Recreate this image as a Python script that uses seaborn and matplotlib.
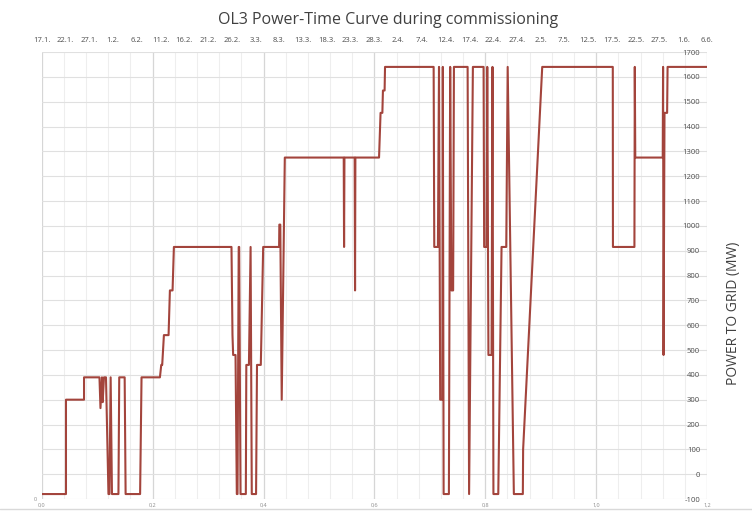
# OL3 power-time curve during commissioning
import numpy as np
import pandas as pd
import matplotlib
matplotlib.use("Agg")
import matplotlib.pyplot as plt
import seaborn as sns

# ------------------------------------------
# DATA
# ------------------------------------------

# days after 17.1.
days = [
    0, 5.1, 5.1, 8.9, 8.9, 12.15, 12.36, 12.68, 12.82, 13.1,
    13.52, 14.04, 14.25, 14.5, 14.78, 16.14, 16.31, 17.45, 17.65, 20.7,
    21.0, 24.87, 25.15, 25.35, 25.71, 26.69, 26.97, 27.53, 27.81, 39.93,
    40.14, 40.28, 40.78, 41.05, 41.2, 41.45, 41.55, 41.83, 42.95, 43.05,
    43.6, 43.95, 44.2, 45.1, 45.3, 46.1, 46.6, 49.95, 50.0, 50.2,
    50.5, 51.15, 63.55, 63.62, 63.7, 65.85, 65.93, 66.0, 70.98, 71.3,
    71.68, 71.8, 72.15, 72.24, 82.47, 82.6, 83.37, 83.6, 83.85, 84.3,
    84.4, 84.57, 85.68, 85.95, 86.2, 86.57, 86.74, 89.62, 89.93, 90.73,
    92.98, 93.1, 93.61, 93.75, 94.0, 94.66, 94.85, 95.05, 96.07, 96.76,
    97.75, 98.05, 99.35, 101.24, 101.3, 105.32, 120.17, 120.2, 124.72, 124.8,
    124.9, 130.68, 130.75, 130.85, 131.05, 131.6, 131.7, 140,
]

# MW
power = [
    -80, -80, 300, 300, 390, 390, 266, 390, 290, 390,
    390, -80, -80, 390, -80, -80, 390, 390, -80, -80,
    390, 390, 440, 440, 560, 560, 740, 740, 915, 915,
    560, 480, 480, -80, -80, 915, 915, -80, -80, 440,
    440, 915, -80, -80, 440, 440, 915, 915, 1005, 1005,
    300, 1275, 1275, 915, 1275, 1275, 740, 1275, 1275, 1455,
    1455, 1545, 1545, 1640, 1640, 915, 915, 1640, 300, 300,
    1640, -80, -80, 1640, 740, 740, 1640, 1640, -80, 1640,
    1640, 915, 915, 1640, 480, 480, 1640, -80, -80, 915,
    915, 1640, -80, -80, 100, 1640, 1640, 915, 915, 1640,
    1275, 1275, 1640, 480, 1455, 1455, 1640, 1640,
]

date_labels = [
    "17.1.", "22.1.", "27.1.", "1.2.", "6.2.", "11.2.", "16.2.", "21.2.",
    "26.2.", "3.3.", "8.3.", "13.3.", "18.3.", "23.3.", "28.3.", "2.4.",
    "7.4.", "12.4.", "17.4.", "22.4.", "27.4.", "2.5.", "7.5.", "12.5.",
    "17.5.", "22.5.", "27.5.", "1.6.", "6.6.",
]
date_ticks = np.arange(0, 141, 5)

bottom_ticks = [0.0, 0.2, 0.4, 0.6, 0.8, 1.0, 1.2]
bottom_labels = ["0,0", "0,2", "0,4", "0,6", "0,8", "1,0", "1,2"]

y_ticks = np.arange(-100, 1701, 100)

df = pd.DataFrame({"day": days, "power": power})

# ------------------------------------------
# PLOT
# ------------------------------------------

sns.set_theme(style="white")
plt.rcParams["font.family"] = ["Open Sans", "DejaVu Sans"]

fig = plt.figure(figsize=(7.52, 5.27), dpi=100)
ax = fig.add_axes([0.0555, 0.0531, 0.8847, 0.8482])

# twin axis carries the 0..1.2 scale and the vertical grid, sits behind
axb = ax.twiny()
axb.set_xlim(0, 1.2)
axb.xaxis.set_ticks_position("bottom")
axb.xaxis.set_label_position("bottom")
axb.set_xticks(bottom_ticks)
axb.set_xticklabels(bottom_labels)
axb.set_xticks(np.arange(0, 1.2001, 0.04), minor=True)
axb.grid(which="major", axis="x", color="#d6d6d6", lw=0.9)
axb.grid(which="minor", axis="x", color="#eeeeee", lw=0.8)
axb.tick_params(axis="x", which="both", length=0, pad=2.5,
                labelsize=4, labelcolor="#8c8c8c")
ax.set_zorder(axb.get_zorder() + 1)
ax.patch.set_visible(False)

sns.lineplot(data=df, x="day", y="power", sort=False, estimator=None,
             color="#a3443c", lw=1.5, ax=ax)

ax.set_xlim(0, 140)
ax.set_ylim(-100, 1700)
ax.xaxis.set_ticks_position("top")
ax.set_xticks(date_ticks)
ax.set_xticklabels(date_labels)
ax.tick_params(axis="x", length=0, pad=6, labelsize=5.5, labelcolor="#4d4d4d")

ax.yaxis.tick_right()
ax.set_yticks(y_ticks)
ax.set_yticklabels([str(v) for v in y_ticks])
ax.tick_params(axis="y", length=0, pad=-5, labelsize=5.5, labelcolor="#4d4d4d")
for t in ax.get_yticklabels():
    t.set_horizontalalignment("right")

ax.grid(axis="y", color="#e0e0e0", lw=0.8)
ax.grid(axis="x", visible=False)
ax.set_xlabel("")
ax.set_ylabel("")

for a in (ax, axb):
    for s in a.spines.values():
        s.set_visible(False)

# stray left-axis zero
ax.text(-0.008, 0, "0", transform=ax.transAxes, ha="right", va="center",
        fontsize=4, color="#8c8c8c")

fig.text(388 / 752, 1 - 20 / 527, "OL3 Power-Time Curve during commissioning",
         ha="center", va="center", fontsize=11.5, color="#404040")
fig.text(733 / 752, 1 - 313 / 527, "POWER TO GRID (MW)", rotation=90,
         ha="center", va="center", fontsize=10, color="#404040")

fig.add_artist(plt.Line2D([0, 1], [1 - 509 / 527] * 2, color="#d9d9d9", lw=1))

fig.savefig("out.png", dpi=100)
